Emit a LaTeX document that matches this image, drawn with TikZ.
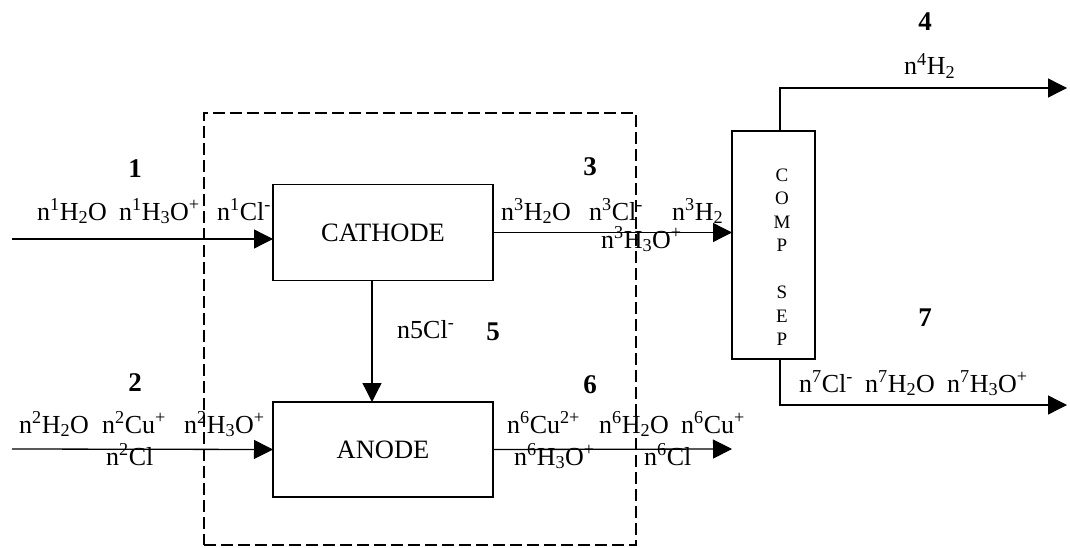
\documentclass[tikz,border=0pt]{standalone}
\usepackage{fontspec}
\setmainfont{Liberation Serif}
\usepackage{tikz}
\usetikzlibrary{arrows.meta}
\tikzset{
  unit/.style={draw, line width=1.3pt, inner sep=0pt, outer sep=0pt, font=\fontsize{26.5}{31}\selectfont},
  envelope/.style={draw, line width=1.3pt, dash pattern=on 12pt off 5pt, inner sep=0pt},
  flow/.style={line width=1.3pt, -{Triangle[length=19pt, width=19pt]}},
  chem/.style={anchor=base west, inner sep=0pt, font=\fontsize{26}{31}\selectfont},
  num/.style={inner sep=0pt, font=\fontsize{27}{31}\selectfont\bfseries},
}
\newcommand{\chem}[3]{\node[chem] (#1) at (#2) {#3};}
\newcommand{\up}[1]{\textsuperscript{#1}}
\newcommand{\dn}[1]{\textsubscript{#1}}

\begin{document}
\begin{tikzpicture}[x=1pt,y=-1pt]
  \useasboundingbox (0,0) rectangle (1070,548);
  % units
  \node[envelope, minimum width=432pt, minimum height=432pt] (cv) at (420,329) {};
  \node[unit, minimum width=220pt, minimum height=96pt] (cathode) at (383,232.5) {CATHODE};
  \node[unit, minimum width=220pt, minimum height=95pt] (anode) at (383,449.5) {ANODE};
  \node[unit, minimum width=83pt, minimum height=228pt] (comp) at (773.5,245) {};
  \node[inner sep=0pt, align=center, font=\fontsize{19}{23.5}\selectfont] (complbl) at (782,257)
    {C\\O\\M\\P\\[23.5pt]S\\E\\P};
  % free ends
  \coordinate (in1) at (12,239);
  \coordinate (in2) at (12,449);
  \coordinate (out6) at (732,449);
  \coordinate (out4) at (1067,88);
  \coordinate (out7) at (1067,405);
  % streams
  \draw[flow] (in1) -- (in1 -| cathode.west);
  \draw[flow] (in2) -- (anode.west);
  \draw[flow] (cathode.east) -- (cathode.east -| comp.west);
  \draw[flow] ([xshift=-11pt]cathode.south) -- ([xshift=-11pt]anode.north);
  \draw[flow] (anode.east) -- (out6);
  \draw[flow] ([xshift=6.5pt]comp.north) |- (out4);
  \draw[flow] ([xshift=6.5pt]comp.south) |- (out7);
  % stream numbers
  \node[num] (n1) at (135,169) {1};
  \node[num] (n2) at (135,383) {2};
  \node[num] (n3) at (590,167) {3};
  \node[num] (n4) at (925,22) {4};
  \node[num] (n5) at (493,332) {5};
  \node[num] (n6) at (590,385) {6};
  \node[num] (n7) at (925,318) {7};
  % species
  \chem{s1a}{37,220}{n\up{1}H\dn{2}O}
  \chem{s1b}{119,220}{n\up{1}H\dn{3}O\up{+}}
  \chem{s1c}{217,220}{n\up{1}Cl\up{-}}
  \chem{s3a}{501,220}{n\up{3}H\dn{2}O}
  \chem{s3b}{589,220}{n\up{3}Cl\up{-}}
  \chem{s3c}{672,220}{n\up{3}H\dn{2}}
  \chem{s3d}{601,248}{n\up{3}H\dn{3}O\up{+}}
  \chem{s2a}{19,433}{n\up{2}H\dn{2}O}
  \chem{s2b}{102,433}{n\up{2}Cu\up{+}}
  \chem{s2c}{184,433}{n\up{2}H\dn{3}O\up{+}}
  \chem{s2d}{106,465}{n\up{2}Cl}
  \chem{s5}{397,338}{n5Cl\up{-}}
  \chem{s6a}{507,433}{n\up{6}Cu\up{2+}}
  \chem{s6b}{599,433}{n\up{6}H\dn{2}O}
  \chem{s6c}{681,433}{n\up{6}Cu\up{+}}
  \chem{s6d}{514,465}{n\up{6}H\dn{3}O\up{+}}
  \chem{s6e}{644,465}{n\up{6}Cl}
  \chem{s4}{904,75}{n\up{4}H\dn{2}}
  \chem{s7a}{799,392}{n\up{7}Cl\up{-}}
  \chem{s7b}{865,392}{n\up{7}H\dn{2}O}
  \chem{s7c}{947,392}{n\up{7}H\dn{3}O\up{+}}
\end{tikzpicture}
\end{document}
